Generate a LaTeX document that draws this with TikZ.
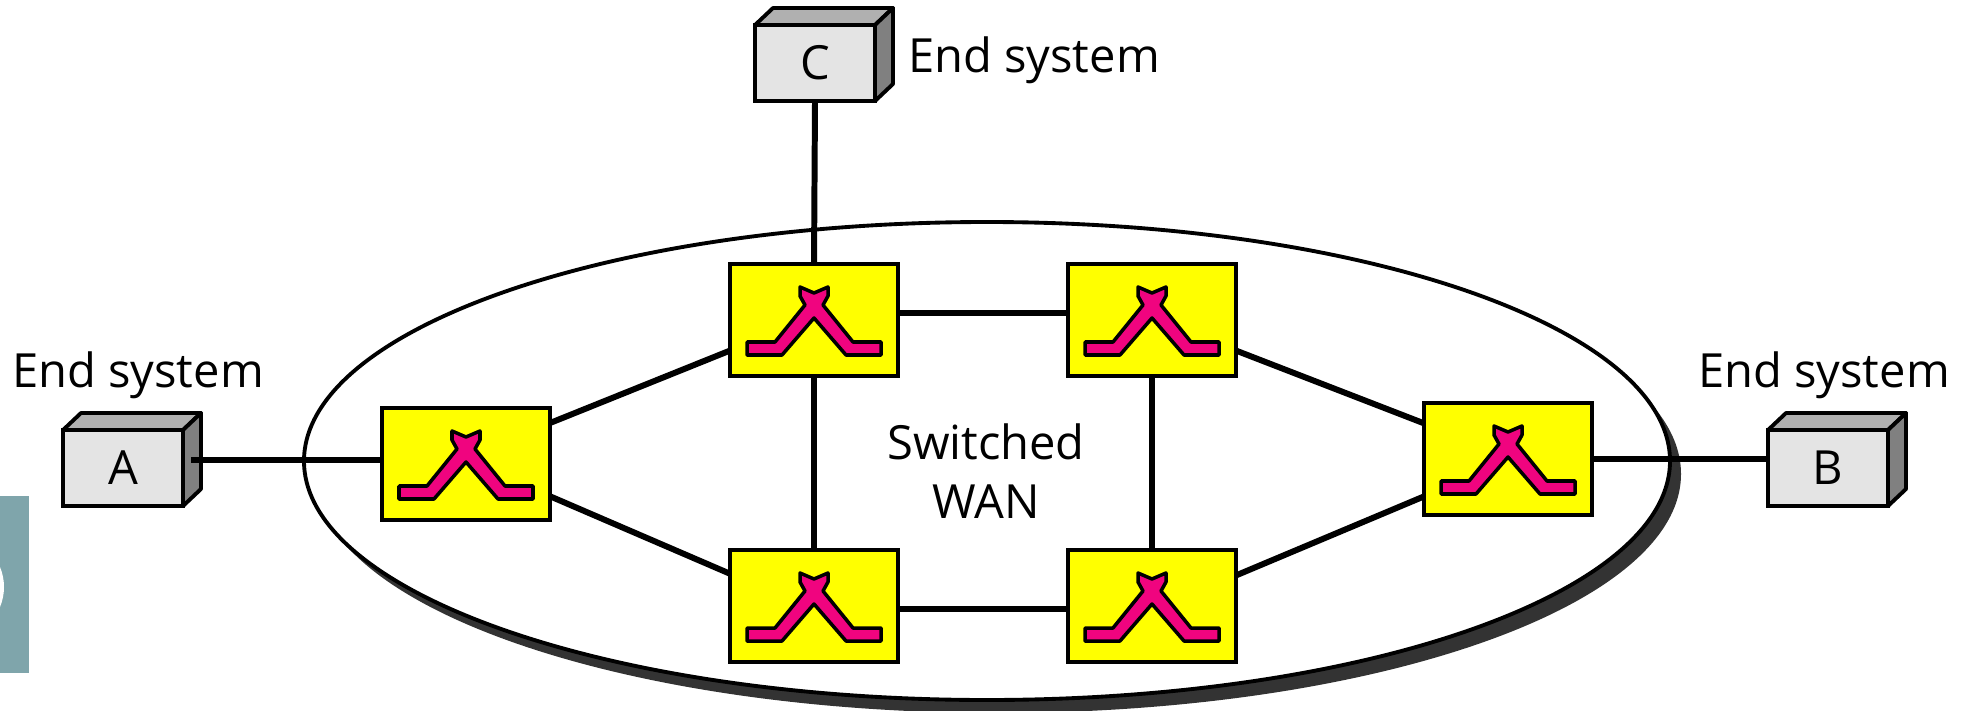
\documentclass[tikz,border=0pt]{standalone}
\usepackage{fontspec}
\setmainfont{Open Sans}
\definecolor{facefront}{HTML}{E4E4E4}
\definecolor{facetop}{HTML}{B0B0B0}
\definecolor{faceside}{HTML}{808080}
\definecolor{crosspink}{HTML}{F0047F}
\definecolor{boxyellow}{RGB}{255,255,0}
\definecolor{sidebar}{HTML}{7FA5AB}
\definecolor{wanshadow}{HTML}{333333}
\tikzset{
  link/.style={line width=3.4pt},
  lbl/.style={font=\fontsize{26.8}{34}\selectfont,align=center,inner sep=0pt},
  endbox/.style={draw,line width=2.2pt,fill=facefront,minimum width=2.4cm,minimum height=1.52cm,inner sep=0pt,outer sep=0pt,font=\fontsize{26.8}{30}\selectfont},
  switchbox/.style={draw,line width=2.2pt,fill=boxyellow,minimum width=3.36cm,minimum height=2.24cm,inner sep=0pt,outer sep=0pt},
  xover/.pic={
    \draw[line width=2pt,fill=crosspink,line join=round]
      (-67,22)--(-67,35)--(-32,35)--(0,-2)--(32,35)--(67,35)--(67,22)--(39,22)--(9,-15)
      --(14,-24)--(14,-33)--(0,-27)--(-14,-33)--(-14,-24)--(-9,-15)--(-39,22)--cycle;
  }
}
\begin{document}
\begin{tikzpicture}[x=0.02cm,y=-0.02cm]
\useasboundingbox (0,0) rectangle (1964,710);
\fill[sidebar] (0,496) rectangle (29,673);
\fill[white] (-48,587) circle (52);
\fill[wanshadow] (998,474) ellipse [x radius=683,y radius=239];
\draw[line width=2.2pt,fill=white] (987,461) ellipse [x radius=683,y radius=239];
\node[endbox] (A) at (123,468) {A};
\node[endbox] (B) at (1828,468) {B};
\node[endbox] (C) at (815,63) {C};
\foreach \b in {A,B,C} {
  \draw[line width=2.2pt,line join=round,fill=facetop] (\b.north west)--++(18,-17)--++(120,0)--(\b.north east)--cycle;
  \draw[line width=2.2pt,line join=round,fill=faceside] (\b.north east)--++(18,-17)--++(0,76)--(\b.south east)--cycle;
}
\node[switchbox] (S1) at (466,464) {};
\node[switchbox] (S2) at (814,320) {};
\node[switchbox] (S3) at (1152,320) {};
\node[switchbox] (S4) at (814,606) {};
\node[switchbox] (S5) at (1152,606) {};
\node[switchbox] (S6) at (1508,459) {};
\foreach \s in {S1,S2,S3,S4,S5,S6}
  \pic at (\s) {xover};
\coordinate (Aport) at (191,460);
\draw[link] (Aport)--(Aport-|S1.west);
\draw[link] (S6.east)--(S6.east-|B.west);
\draw[link] (C.south)--(S2.north);
\draw[link] (S1.26)--(S2.200);
\draw[link] (S1.-21)--(S4.159);
\draw[link] (S2.5)--(S3.175);
\draw[link] (S4.-2)--(S5.182);
\draw[link] (S2.south)--(S4.north);
\draw[link] (S3.south)--(S5.north);
\draw[link] (S3.-20)--(S6.157);
\draw[link] (S5.20)--(S6.204);
\node[lbl] (wan) at (986,471) {Switched\\WAN};
\node[lbl] (endC) at (1034,60) {End system};
\node[lbl] (endA) at (138,375) {End system};
\node[lbl] (endB) at (1824,375) {End system};
\end{tikzpicture}
\end{document}
